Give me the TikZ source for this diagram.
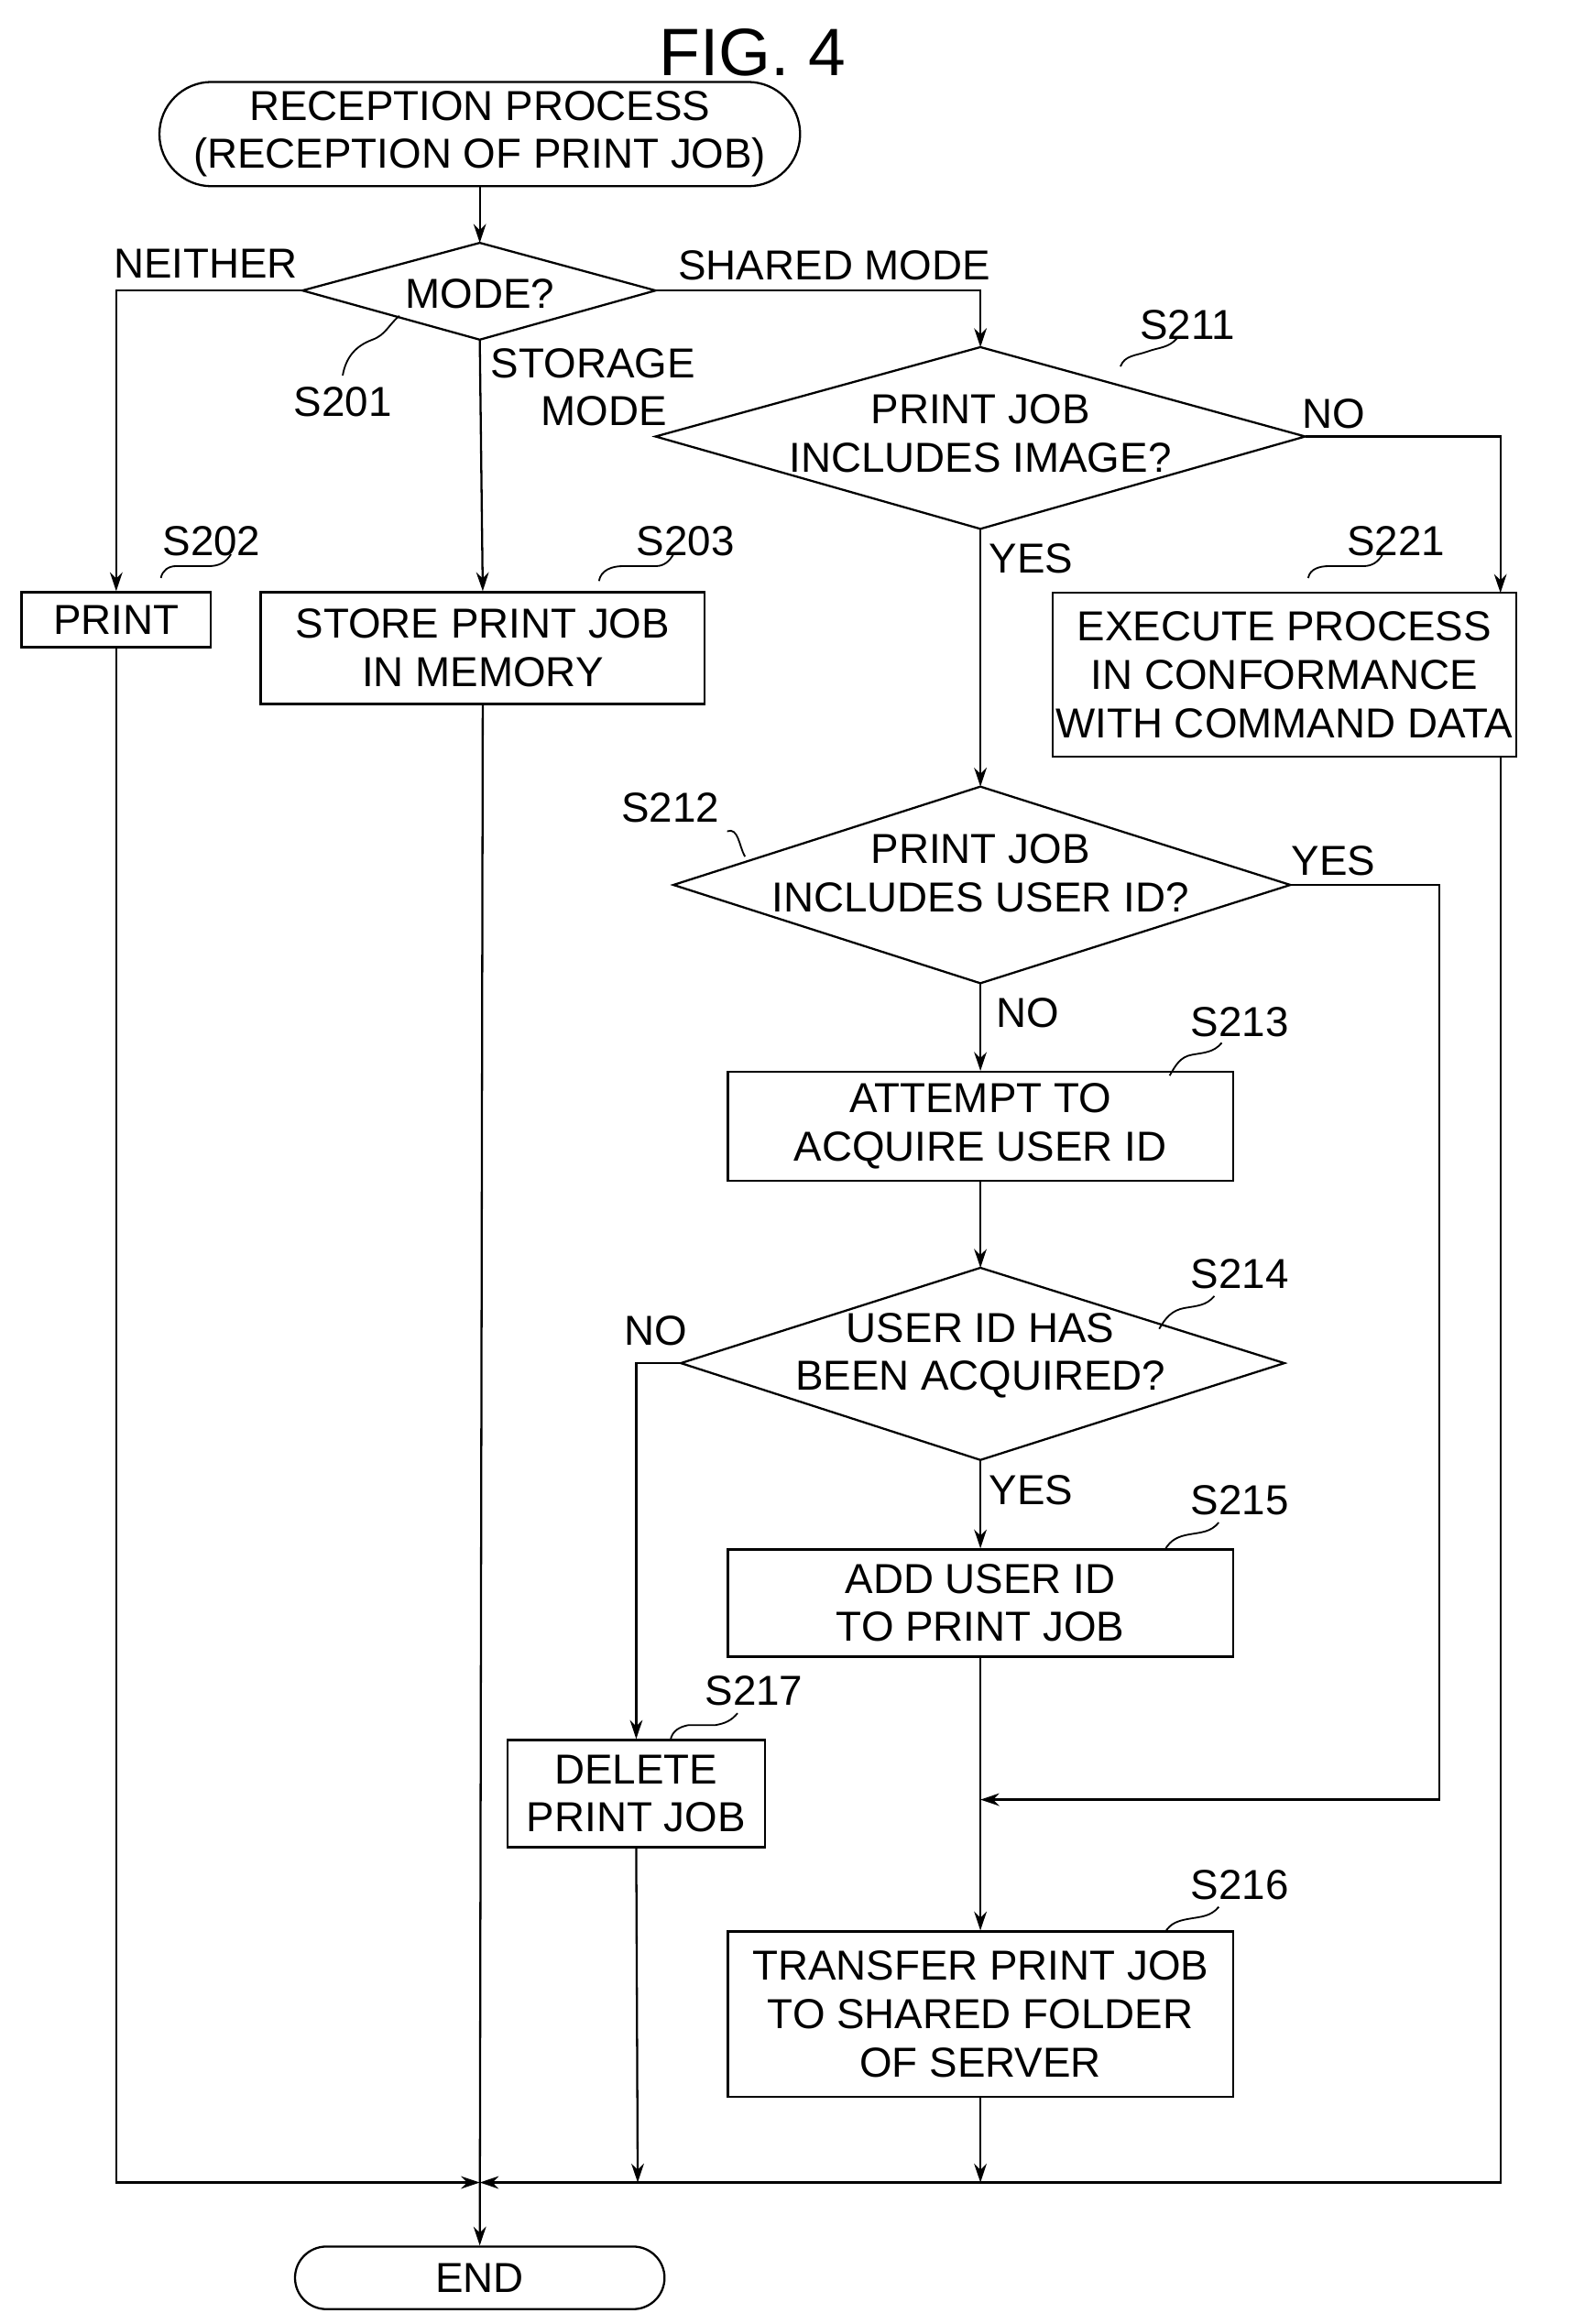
\documentclass[tikz,border=0pt]{standalone}
\usepackage{fontspec}
\setmainfont{Liberation Sans}
\usetikzlibrary{shapes.geometric,arrows.meta}
\begin{document}
\begin{tikzpicture}[x=0.025cm,y=-0.025cm,
  every node/.style={font=\fontsize{20}{23}\selectfont},
  box/.style={draw,line width=1pt,inner sep=0pt,align=center},
  lab/.style={inner sep=1pt},
  ln/.style={line width=1pt},
  arr/.style={line width=1pt,-{Stealth[length=9pt,width=6pt]}}]
\useasboundingbox (0,0) rectangle (1056,1560);
\node[font=\fontsize{32}{36}\selectfont] (fig) at (505,35) {FIG. 4};
\node[box,rounded corners=35*0.025cm,minimum width=430*0.025cm,minimum height=70*0.025cm] (start) at (322,90) {RECEPTION PROCESS\\(RECEPTION OF PRINT JOB)};
\draw[ln] (203,195) coordinate (d1w) -- (322,163) coordinate (d1n) -- (440,195) coordinate (d1e) -- (322,228) coordinate (d1s) -- cycle;
\node (d1) at (322,197) {MODE?};
\draw[ln] (440,293) coordinate (d2w) -- (658,233) coordinate (d2n) -- (876,293) coordinate (d2e) -- (658,355) coordinate (d2s) -- cycle;
\node[align=center] (d2) at (658,291) {PRINT JOB\\INCLUDES IMAGE?};
\draw[ln] (452,594) coordinate (d3w) -- (658,528) coordinate (d3n) -- (866,594) coordinate (d3e) -- (658,660) coordinate (d3s) -- cycle;
\node[align=center] (d3) at (658,586) {PRINT JOB\\INCLUDES USER ID?};
\draw[ln] (457,915) coordinate (d4w) -- (658,851) coordinate (d4n) -- (862,915) coordinate (d4e) -- (658,980) coordinate (d4s) -- cycle;
\node[align=center] (d4) at (658,910) {USER ID HAS\\BEEN ACQUIRED?};
\node[box,minimum width=127*0.025cm,minimum height=37*0.025cm] (print) at (78,416) {PRINT};
\node[box,minimum width=298*0.025cm,minimum height=75*0.025cm] (store) at (324,435) {STORE PRINT JOB\\IN MEMORY};
\node[box,minimum width=311*0.025cm,minimum height=110*0.025cm] (s221) at (862,453) {EXECUTE PROCESS\\IN CONFORMANCE\\WITH COMMAND DATA};
\node[box,minimum width=339*0.025cm,minimum height=73*0.025cm] (s213) at (658,756) {ATTEMPT TO\\ACQUIRE USER ID};
\node[box,minimum width=339*0.025cm,minimum height=72*0.025cm] (s215) at (658,1076) {ADD USER ID\\TO PRINT JOB};
\node[box,minimum width=173*0.025cm,minimum height=72*0.025cm] (s217) at (427,1204) {DELETE\\PRINT JOB};
\node[box,minimum width=339*0.025cm,minimum height=111*0.025cm] (s216) at (658,1352) {TRANSFER PRINT JOB\\TO SHARED FOLDER\\OF SERVER};
\node[box,rounded corners=21*0.025cm,minimum width=248*0.025cm,minimum height=42*0.025cm] (end) at (322,1529) {END};
\coordinate (s221in) at (1007,398);
\coordinate (s221out) at (1007,508);
% labels
\node[lab] (lneither) at (138,177) {NEITHER};
\node[lab] (lshared) at (560,178) {SHARED MODE};
\node[lab,align=left] (lstorage) at (398,260) {STORAGE\\\hspace*{1.2em}MODE};
\node[lab] (l201) at (230,270) {S201};
\node[lab] (l202) at (142,363) {S202};
\node[lab] (l203) at (460,363) {S203};
\node[lab] (l211) at (797,218) {S211};
\node[lab] (lno1) at (895,278) {NO};
\node[lab] (lyes1) at (692,375) {YES};
\node[lab] (l221) at (937,363) {S221};
\node[lab] (l212) at (450,542) {S212};
\node[lab] (lyes2) at (895,578) {YES};
\node[lab] (lno2) at (690,680) {NO};
\node[lab] (l213) at (832,686) {S213};
\node[lab] (l214) at (832,855) {S214};
\node[lab] (lno3) at (440,893) {NO};
\node[lab] (lyes3) at (692,1000) {YES};
\node[lab] (l215) at (832,1007) {S215};
\node[lab] (l217) at (506,1135) {S217};
\node[lab] (l216) at (832,1265) {S216};
% squiggles
\draw[line width=0.8pt] (230,252) to[out=80,in=200] (250,228) to[out=20,in=220] (268,212);
\draw[line width=0.8pt] (108,388) to[out=80,in=180] (118,380) -- (140,380) to[out=0,in=240] (155,372);
\draw[line width=0.8pt] (402,390) to[out=80,in=180] (418,380) -- (440,380) to[out=0,in=240] (452,372);
\draw[line width=0.8pt] (752,246) to[out=70,in=200] (770,236) to[out=20,in=230] (790,227);
\draw[line width=0.8pt] (878,388) to[out=80,in=180] (892,380) -- (915,380) to[out=0,in=240] (928,372);
\draw[line width=0.8pt] (488,558) to[out=20,in=120] (500,575);
\draw[line width=0.8pt] (785,722) to[out=60,in=190] (800,708) to[out=10,in=230] (820,700);
\draw[line width=0.8pt] (778,892) to[out=60,in=190] (795,878) to[out=10,in=230] (815,870);
\draw[line width=0.8pt] (782,1040) to[out=60,in=190] (798,1030) to[out=10,in=230] (818,1022);
\draw[line width=0.8pt] (450,1168) to[out=80,in=190] (462,1158) -- (480,1158) to[out=10,in=230] (495,1150);
\draw[line width=0.8pt] (782,1297) to[out=60,in=190] (798,1288) to[out=10,in=230] (818,1280);
% connectors
\draw[arr] (start) -- (d1n);
\draw[arr] (d1w) -| (print.north);
\draw[arr] (d1s) -- (store.north);
\draw[arr] (d1e) -| (d2n);
\draw[arr] (d2e) -| (s221in);
\draw[arr] (d2s) -- (d3n);
\draw[arr] (d3s) -- (s213.north);
\draw[arr] (s213) -- (d4n);
\draw[arr] (d4s) -- (s215.north);
\draw[arr] (d4w) -| (s217.north);
\draw[ln] (s215.south) -- (658,1208) coordinate (m1);
\draw[arr] (d3e) -- (966,594) -- (966,1208) -- (m1);
\draw[arr] (m1) -- (s216.north);
\coordinate (j) at (322,1465);
\draw[arr] (print.south) |- (j);
\draw[arr] (s221out) |- (j);
\draw[arr] (store.south) -- (end.north);
\draw[arr] (s217.south) -- (428,1465);
\draw[arr] (s216.south) -- (658,1465);
\end{tikzpicture}
\end{document}
